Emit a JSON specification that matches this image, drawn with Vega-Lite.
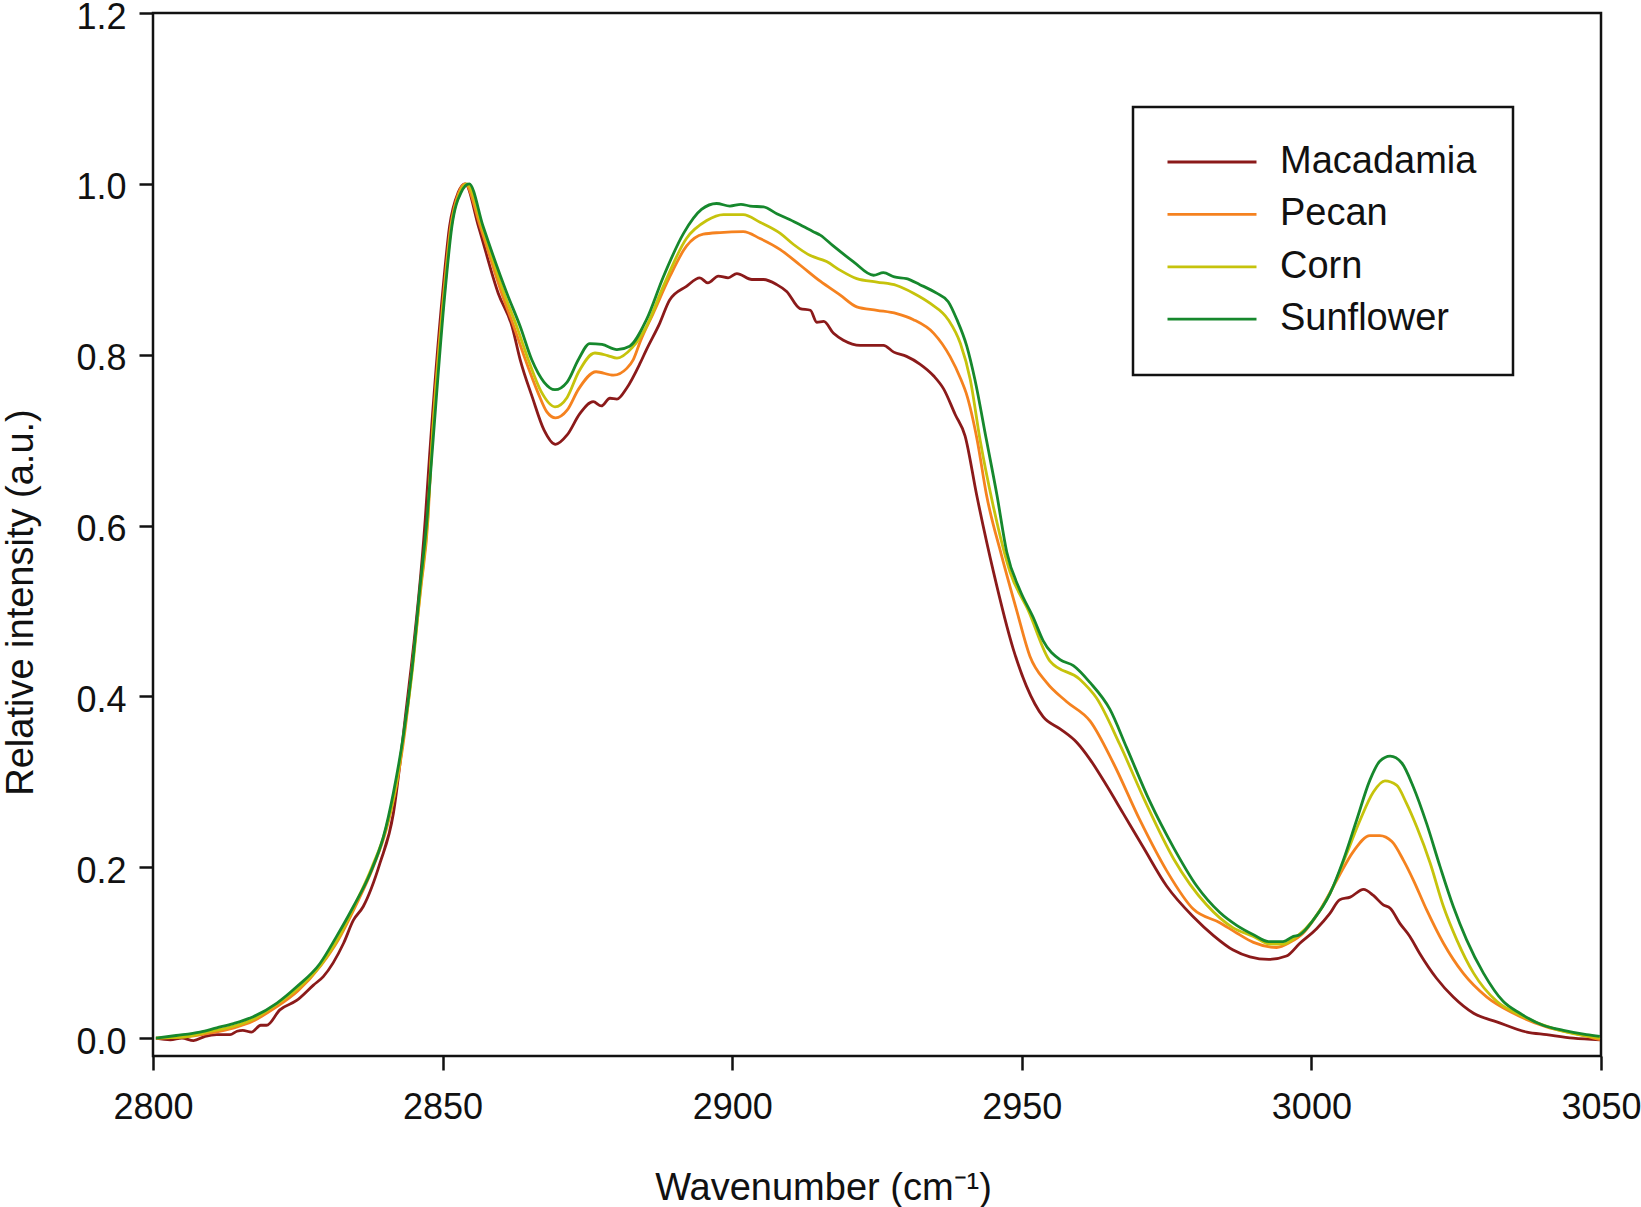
{
  "$schema": "https://vega.github.io/schema/vega-lite/v6.json",
  "width": 1448,
  "height": 1043,
  "autosize": "none",
  "padding": {"left": 153, "top": 13, "right": 40, "bottom": 151},
  "background": "white",
  "config": {
    "font": "Liberation Sans",
    "view": {"stroke": "#111111", "strokeWidth": 2.5},
    "axis": {
      "grid": false,
      "domain": false,
      "tickColor": "#111111",
      "tickWidth": 2.5,
      "tickSize": 14,
      "labelFont": "Liberation Sans",
      "labelFontSize": 36,
      "labelColor": "#111111",
      "labelFlush": false,
      "labelOverlap": false,
      "titleFont": "Liberation Sans",
      "titleFontSize": 38,
      "titleFontWeight": "normal",
      "titleColor": "#111111"
    },
    "legend": {
      "labelFont": "Liberation Sans",
      "labelFontSize": 38,
      "labelColor": "#111111",
      "strokeColor": "#111111",
      "strokeWidth": 2.5
    }
  },
  "data": {
    "values": [
      {"s":"Macadamia","w":2800.5,"v":0.000},
      {"s":"Macadamia","w":2803,"v":-0.002},
      {"s":"Macadamia","w":2805,"v":0.000},
      {"s":"Macadamia","w":2807,"v":-0.003},
      {"s":"Macadamia","w":2809,"v":0.002},
      {"s":"Macadamia","w":2811,"v":0.004},
      {"s":"Macadamia","w":2813.3,"v":0.004},
      {"s":"Macadamia","w":2814.5,"v":0.008},
      {"s":"Macadamia","w":2815.5,"v":0.009},
      {"s":"Macadamia","w":2817.0,"v":0.007},
      {"s":"Macadamia","w":2818.6,"v":0.015},
      {"s":"Macadamia","w":2819.6,"v":0.015},
      {"s":"Macadamia","w":2821.9,"v":0.033},
      {"s":"Macadamia","w":2824.8,"v":0.044},
      {"s":"Macadamia","w":2827.7,"v":0.062},
      {"s":"Macadamia","w":2829.4,"v":0.072},
      {"s":"Macadamia","w":2832.9,"v":0.111},
      {"s":"Macadamia","w":2834.6,"v":0.138},
      {"s":"Macadamia","w":2836.3,"v":0.154},
      {"s":"Macadamia","w":2839.2,"v":0.205},
      {"s":"Macadamia","w":2841.5,"v":0.263},
      {"s":"Macadamia","w":2843.5,"v":0.372},
      {"s":"Macadamia","w":2847.0,"v":0.607},
      {"s":"Macadamia","w":2847.7,"v":0.677},
      {"s":"Macadamia","w":2850.0,"v":0.872},
      {"s":"Macadamia","w":2851.2,"v":0.950},
      {"s":"Macadamia","w":2852.7,"v":0.990},
      {"s":"Macadamia","w":2853.9,"v":1.000},
      {"s":"Macadamia","w":2856.2,"v":0.950},
      {"s":"Macadamia","w":2859.6,"v":0.872},
      {"s":"Macadamia","w":2862.0,"v":0.833},
      {"s":"Macadamia","w":2863.4,"v":0.794},
      {"s":"Macadamia","w":2865.5,"v":0.750},
      {"s":"Macadamia","w":2867.5,"v":0.712},
      {"s":"Macadamia","w":2869.5,"v":0.695},
      {"s":"Macadamia","w":2871.5,"v":0.706},
      {"s":"Macadamia","w":2873.7,"v":0.731},
      {"s":"Macadamia","w":2876.0,"v":0.745},
      {"s":"Macadamia","w":2877.4,"v":0.740},
      {"s":"Macadamia","w":2878.9,"v":0.749},
      {"s":"Macadamia","w":2880.1,"v":0.748},
      {"s":"Macadamia","w":2881.8,"v":0.761},
      {"s":"Macadamia","w":2884.1,"v":0.790},
      {"s":"Macadamia","w":2885.2,"v":0.806},
      {"s":"Macadamia","w":2887.5,"v":0.837},
      {"s":"Macadamia","w":2889.2,"v":0.864},
      {"s":"Macadamia","w":2892.1,"v":0.880},
      {"s":"Macadamia","w":2894.4,"v":0.890},
      {"s":"Macadamia","w":2895.8,"v":0.884},
      {"s":"Macadamia","w":2897.6,"v":0.892},
      {"s":"Macadamia","w":2899.3,"v":0.890},
      {"s":"Macadamia","w":2900.8,"v":0.895},
      {"s":"Macadamia","w":2903.4,"v":0.888},
      {"s":"Macadamia","w":2905.4,"v":0.888},
      {"s":"Macadamia","w":2907.7,"v":0.882},
      {"s":"Macadamia","w":2909.4,"v":0.874},
      {"s":"Macadamia","w":2911.7,"v":0.854},
      {"s":"Macadamia","w":2913.5,"v":0.852},
      {"s":"Macadamia","w":2914.6,"v":0.838},
      {"s":"Macadamia","w":2915.8,"v":0.839},
      {"s":"Macadamia","w":2917.5,"v":0.825},
      {"s":"Macadamia","w":2919.2,"v":0.817},
      {"s":"Macadamia","w":2922.1,"v":0.811},
      {"s":"Macadamia","w":2926.1,"v":0.811},
      {"s":"Macadamia","w":2927.9,"v":0.803},
      {"s":"Macadamia","w":2930.1,"v":0.798},
      {"s":"Macadamia","w":2932.4,"v":0.789},
      {"s":"Macadamia","w":2934.8,"v":0.775},
      {"s":"Macadamia","w":2936.5,"v":0.760},
      {"s":"Macadamia","w":2938.5,"v":0.730},
      {"s":"Macadamia","w":2940.2,"v":0.705},
      {"s":"Macadamia","w":2942.2,"v":0.636},
      {"s":"Macadamia","w":2945.1,"v":0.546},
      {"s":"Macadamia","w":2948.5,"v":0.456},
      {"s":"Macadamia","w":2950.8,"v":0.412},
      {"s":"Macadamia","w":2953.7,"v":0.376},
      {"s":"Macadamia","w":2956.6,"v":0.362},
      {"s":"Macadamia","w":2959.5,"v":0.346},
      {"s":"Macadamia","w":2961.8,"v":0.326},
      {"s":"Macadamia","w":2964.7,"v":0.295},
      {"s":"Macadamia","w":2967.5,"v":0.263},
      {"s":"Macadamia","w":2971.0,"v":0.223},
      {"s":"Macadamia","w":2975.0,"v":0.178},
      {"s":"Macadamia","w":2979.6,"v":0.142},
      {"s":"Macadamia","w":2983.1,"v":0.120},
      {"s":"Macadamia","w":2986.5,"v":0.103},
      {"s":"Macadamia","w":2989.4,"v":0.095},
      {"s":"Macadamia","w":2992.6,"v":0.092},
      {"s":"Macadamia","w":2995.7,"v":0.096},
      {"s":"Macadamia","w":2998.0,"v":0.111},
      {"s":"Macadamia","w":3000.9,"v":0.128},
      {"s":"Macadamia","w":3003.2,"v":0.146},
      {"s":"Macadamia","w":3004.9,"v":0.162},
      {"s":"Macadamia","w":3006.7,"v":0.165},
      {"s":"Macadamia","w":3009.0,"v":0.174},
      {"s":"Macadamia","w":3010.7,"v":0.167},
      {"s":"Macadamia","w":3012.4,"v":0.156},
      {"s":"Macadamia","w":3013.6,"v":0.152},
      {"s":"Macadamia","w":3015.3,"v":0.134},
      {"s":"Macadamia","w":3017.0,"v":0.119},
      {"s":"Macadamia","w":3018.7,"v":0.099},
      {"s":"Macadamia","w":3021.6,"v":0.070},
      {"s":"Macadamia","w":3024.5,"v":0.048},
      {"s":"Macadamia","w":3028.0,"v":0.029},
      {"s":"Macadamia","w":3032.0,"v":0.019},
      {"s":"Macadamia","w":3037.2,"v":0.007},
      {"s":"Macadamia","w":3040.6,"v":0.004},
      {"s":"Macadamia","w":3045.2,"v":0.000},
      {"s":"Macadamia","w":3049.8,"v":-0.002},

      {"s":"Pecan","w":2800.5,"v":0.000},
      {"s":"Pecan","w":2805,"v":0.001},
      {"s":"Pecan","w":2810,"v":0.006},
      {"s":"Pecan","w":2814,"v":0.012},
      {"s":"Pecan","w":2817.3,"v":0.020},
      {"s":"Pecan","w":2821,"v":0.035},
      {"s":"Pecan","w":2825,"v":0.055},
      {"s":"Pecan","w":2829,"v":0.085},
      {"s":"Pecan","w":2832,"v":0.115},
      {"s":"Pecan","w":2835,"v":0.155},
      {"s":"Pecan","w":2838,"v":0.200},
      {"s":"Pecan","w":2840.3,"v":0.245},
      {"s":"Pecan","w":2842,"v":0.295},
      {"s":"Pecan","w":2843.5,"v":0.360},
      {"s":"Pecan","w":2845,"v":0.450},
      {"s":"Pecan","w":2846.3,"v":0.530},
      {"s":"Pecan","w":2847.5,"v":0.610},
      {"s":"Pecan","w":2848.0,"v":0.677},
      {"s":"Pecan","w":2850.2,"v":0.872},
      {"s":"Pecan","w":2851.4,"v":0.950},
      {"s":"Pecan","w":2852.8,"v":0.990},
      {"s":"Pecan","w":2853.9,"v":1.000},
      {"s":"Pecan","w":2856.5,"v":0.950},
      {"s":"Pecan","w":2860.2,"v":0.872},
      {"s":"Pecan","w":2862.3,"v":0.833},
      {"s":"Pecan","w":2864.3,"v":0.794},
      {"s":"Pecan","w":2866.5,"v":0.755},
      {"s":"Pecan","w":2868.0,"v":0.733},
      {"s":"Pecan","w":2869.5,"v":0.726},
      {"s":"Pecan","w":2871.5,"v":0.735},
      {"s":"Pecan","w":2873.5,"v":0.760},
      {"s":"Pecan","w":2876.5,"v":0.780},
      {"s":"Pecan","w":2879.5,"v":0.776},
      {"s":"Pecan","w":2881.8,"v":0.784},
      {"s":"Pecan","w":2882.9,"v":0.794},
      {"s":"Pecan","w":2884.1,"v":0.815},
      {"s":"Pecan","w":2886.4,"v":0.849},
      {"s":"Pecan","w":2889.2,"v":0.891},
      {"s":"Pecan","w":2892.1,"v":0.927},
      {"s":"Pecan","w":2895.0,"v":0.941},
      {"s":"Pecan","w":2897.9,"v":0.943},
      {"s":"Pecan","w":2901.9,"v":0.944},
      {"s":"Pecan","w":2904.8,"v":0.936},
      {"s":"Pecan","w":2908.3,"v":0.923},
      {"s":"Pecan","w":2911.7,"v":0.905},
      {"s":"Pecan","w":2915.2,"v":0.886},
      {"s":"Pecan","w":2918.6,"v":0.870},
      {"s":"Pecan","w":2921.5,"v":0.856},
      {"s":"Pecan","w":2925.0,"v":0.852},
      {"s":"Pecan","w":2928.4,"v":0.848},
      {"s":"Pecan","w":2931.3,"v":0.841},
      {"s":"Pecan","w":2934.8,"v":0.825},
      {"s":"Pecan","w":2937.6,"v":0.798},
      {"s":"Pecan","w":2939.5,"v":0.771},
      {"s":"Pecan","w":2940.4,"v":0.755},
      {"s":"Pecan","w":2942.3,"v":0.700},
      {"s":"Pecan","w":2943.9,"v":0.636},
      {"s":"Pecan","w":2946.5,"v":0.565},
      {"s":"Pecan","w":2949.1,"v":0.501},
      {"s":"Pecan","w":2951.4,"v":0.447},
      {"s":"Pecan","w":2954.3,"v":0.416},
      {"s":"Pecan","w":2957.7,"v":0.394},
      {"s":"Pecan","w":2961.8,"v":0.371},
      {"s":"Pecan","w":2965.8,"v":0.322},
      {"s":"Pecan","w":2970.4,"v":0.255},
      {"s":"Pecan","w":2975.0,"v":0.196},
      {"s":"Pecan","w":2979.6,"v":0.151},
      {"s":"Pecan","w":2984.2,"v":0.135},
      {"s":"Pecan","w":2987.1,"v":0.123},
      {"s":"Pecan","w":2990.0,"v":0.112},
      {"s":"Pecan","w":2994.0,"v":0.106},
      {"s":"Pecan","w":2996.3,"v":0.112},
      {"s":"Pecan","w":2998.6,"v":0.123},
      {"s":"Pecan","w":3001.5,"v":0.150},
      {"s":"Pecan","w":3004.4,"v":0.185},
      {"s":"Pecan","w":3007.2,"v":0.218},
      {"s":"Pecan","w":3010.1,"v":0.237},
      {"s":"Pecan","w":3011.8,"v":0.237},
      {"s":"Pecan","w":3013.9,"v":0.230},
      {"s":"Pecan","w":3015.9,"v":0.208},
      {"s":"Pecan","w":3017.6,"v":0.185},
      {"s":"Pecan","w":3019.9,"v":0.150},
      {"s":"Pecan","w":3022.8,"v":0.111},
      {"s":"Pecan","w":3026.2,"v":0.076},
      {"s":"Pecan","w":3030.3,"v":0.048},
      {"s":"Pecan","w":3034.9,"v":0.029},
      {"s":"Pecan","w":3040.6,"v":0.013},
      {"s":"Pecan","w":3046.4,"v":0.004},
      {"s":"Pecan","w":3049.8,"v":-0.002},

      {"s":"Corn","w":2800.5,"v":0.000},
      {"s":"Corn","w":2805,"v":0.001},
      {"s":"Corn","w":2810,"v":0.008},
      {"s":"Corn","w":2814,"v":0.014},
      {"s":"Corn","w":2817.3,"v":0.022},
      {"s":"Corn","w":2821,"v":0.038},
      {"s":"Corn","w":2825,"v":0.058},
      {"s":"Corn","w":2829,"v":0.086},
      {"s":"Corn","w":2832,"v":0.117},
      {"s":"Corn","w":2835,"v":0.158},
      {"s":"Corn","w":2837.8,"v":0.200},
      {"s":"Corn","w":2840,"v":0.240},
      {"s":"Corn","w":2841.8,"v":0.290},
      {"s":"Corn","w":2843.3,"v":0.355},
      {"s":"Corn","w":2844.8,"v":0.432},
      {"s":"Corn","w":2846.2,"v":0.528},
      {"s":"Corn","w":2847.4,"v":0.607},
      {"s":"Corn","w":2848.0,"v":0.677},
      {"s":"Corn","w":2850.3,"v":0.872},
      {"s":"Corn","w":2851.5,"v":0.950},
      {"s":"Corn","w":2853.0,"v":0.990},
      {"s":"Corn","w":2854.2,"v":1.000},
      {"s":"Corn","w":2856.8,"v":0.950},
      {"s":"Corn","w":2860.6,"v":0.872},
      {"s":"Corn","w":2862.8,"v":0.833},
      {"s":"Corn","w":2864.8,"v":0.794},
      {"s":"Corn","w":2867.0,"v":0.757},
      {"s":"Corn","w":2869.4,"v":0.739},
      {"s":"Corn","w":2871.5,"v":0.750},
      {"s":"Corn","w":2873.5,"v":0.780},
      {"s":"Corn","w":2876.3,"v":0.802},
      {"s":"Corn","w":2878.5,"v":0.799},
      {"s":"Corn","w":2880.1,"v":0.796},
      {"s":"Corn","w":2882.7,"v":0.808},
      {"s":"Corn","w":2885.2,"v":0.833},
      {"s":"Corn","w":2888.1,"v":0.880},
      {"s":"Corn","w":2892.1,"v":0.936},
      {"s":"Corn","w":2895.6,"v":0.957},
      {"s":"Corn","w":2898.5,"v":0.964},
      {"s":"Corn","w":2901.9,"v":0.964},
      {"s":"Corn","w":2904.8,"v":0.955},
      {"s":"Corn","w":2908.3,"v":0.942},
      {"s":"Corn","w":2910.6,"v":0.929},
      {"s":"Corn","w":2913.5,"v":0.916},
      {"s":"Corn","w":2916.3,"v":0.909},
      {"s":"Corn","w":2918.6,"v":0.899},
      {"s":"Corn","w":2921.5,"v":0.889},
      {"s":"Corn","w":2925.0,"v":0.885},
      {"s":"Corn","w":2928.4,"v":0.881},
      {"s":"Corn","w":2931.3,"v":0.872},
      {"s":"Corn","w":2934.2,"v":0.860},
      {"s":"Corn","w":2937.3,"v":0.841},
      {"s":"Corn","w":2939.4,"v":0.813},
      {"s":"Corn","w":2941.1,"v":0.771},
      {"s":"Corn","w":2942.8,"v":0.700},
      {"s":"Corn","w":2945.0,"v":0.625},
      {"s":"Corn","w":2948.0,"v":0.545},
      {"s":"Corn","w":2951.1,"v":0.501},
      {"s":"Corn","w":2954.9,"v":0.441},
      {"s":"Corn","w":2960.0,"v":0.420},
      {"s":"Corn","w":2962.9,"v":0.398},
      {"s":"Corn","w":2966.9,"v":0.344},
      {"s":"Corn","w":2971.3,"v":0.277},
      {"s":"Corn","w":2976.2,"v":0.210},
      {"s":"Corn","w":2981.9,"v":0.156},
      {"s":"Corn","w":2986.5,"v":0.129},
      {"s":"Corn","w":2990.0,"v":0.119},
      {"s":"Corn","w":2992.8,"v":0.110},
      {"s":"Corn","w":2995.1,"v":0.110},
      {"s":"Corn","w":2997.5,"v":0.119},
      {"s":"Corn","w":3000.3,"v":0.138},
      {"s":"Corn","w":3003.2,"v":0.169},
      {"s":"Corn","w":3006.1,"v":0.216},
      {"s":"Corn","w":3008.4,"v":0.255},
      {"s":"Corn","w":3010.7,"v":0.288},
      {"s":"Corn","w":3012.7,"v":0.301},
      {"s":"Corn","w":3014.7,"v":0.296},
      {"s":"Corn","w":3016.4,"v":0.275},
      {"s":"Corn","w":3018.2,"v":0.247},
      {"s":"Corn","w":3020.5,"v":0.205},
      {"s":"Corn","w":3022.8,"v":0.154},
      {"s":"Corn","w":3025.1,"v":0.115},
      {"s":"Corn","w":3028.0,"v":0.076},
      {"s":"Corn","w":3032.0,"v":0.043},
      {"s":"Corn","w":3036.0,"v":0.027},
      {"s":"Corn","w":3041.8,"v":0.011},
      {"s":"Corn","w":3049.8,"v":0.000},

      {"s":"Sunflower","w":2800.5,"v":0.000},
      {"s":"Sunflower","w":2804,"v":0.003},
      {"s":"Sunflower","w":2808.1,"v":0.007},
      {"s":"Sunflower","w":2811,"v":0.012},
      {"s":"Sunflower","w":2813.9,"v":0.017},
      {"s":"Sunflower","w":2817.3,"v":0.025},
      {"s":"Sunflower","w":2821.4,"v":0.041},
      {"s":"Sunflower","w":2824.8,"v":0.060},
      {"s":"Sunflower","w":2828.8,"v":0.087},
      {"s":"Sunflower","w":2831.7,"v":0.119},
      {"s":"Sunflower","w":2834.6,"v":0.154},
      {"s":"Sunflower","w":2837.5,"v":0.193},
      {"s":"Sunflower","w":2839.8,"v":0.236},
      {"s":"Sunflower","w":2841.5,"v":0.287},
      {"s":"Sunflower","w":2843.2,"v":0.353},
      {"s":"Sunflower","w":2844.7,"v":0.431},
      {"s":"Sunflower","w":2846.1,"v":0.528},
      {"s":"Sunflower","w":2847.3,"v":0.607},
      {"s":"Sunflower","w":2848.1,"v":0.677},
      {"s":"Sunflower","w":2850.4,"v":0.872},
      {"s":"Sunflower","w":2851.6,"v":0.950},
      {"s":"Sunflower","w":2853.2,"v":0.990},
      {"s":"Sunflower","w":2854.6,"v":1.000},
      {"s":"Sunflower","w":2857.0,"v":0.950},
      {"s":"Sunflower","w":2861.1,"v":0.872},
      {"s":"Sunflower","w":2863.4,"v":0.833},
      {"s":"Sunflower","w":2865.4,"v":0.794},
      {"s":"Sunflower","w":2867.5,"v":0.768},
      {"s":"Sunflower","w":2869.4,"v":0.759},
      {"s":"Sunflower","w":2871.5,"v":0.768},
      {"s":"Sunflower","w":2873.5,"v":0.795},
      {"s":"Sunflower","w":2875.4,"v":0.813},
      {"s":"Sunflower","w":2877.5,"v":0.812},
      {"s":"Sunflower","w":2880.1,"v":0.806},
      {"s":"Sunflower","w":2882.3,"v":0.810},
      {"s":"Sunflower","w":2885.2,"v":0.841},
      {"s":"Sunflower","w":2888.1,"v":0.891},
      {"s":"Sunflower","w":2891.6,"v":0.942},
      {"s":"Sunflower","w":2894.7,"v":0.970},
      {"s":"Sunflower","w":2897.3,"v":0.977},
      {"s":"Sunflower","w":2899.6,"v":0.974},
      {"s":"Sunflower","w":2901.5,"v":0.976},
      {"s":"Sunflower","w":2903.1,"v":0.974},
      {"s":"Sunflower","w":2905.4,"v":0.973},
      {"s":"Sunflower","w":2907.7,"v":0.965},
      {"s":"Sunflower","w":2910.0,"v":0.958},
      {"s":"Sunflower","w":2912.3,"v":0.950},
      {"s":"Sunflower","w":2914.0,"v":0.944},
      {"s":"Sunflower","w":2915.2,"v":0.940},
      {"s":"Sunflower","w":2917.5,"v":0.927},
      {"s":"Sunflower","w":2920.9,"v":0.909},
      {"s":"Sunflower","w":2924.4,"v":0.893},
      {"s":"Sunflower","w":2926.1,"v":0.896},
      {"s":"Sunflower","w":2928.0,"v":0.891},
      {"s":"Sunflower","w":2930.1,"v":0.889},
      {"s":"Sunflower","w":2932.4,"v":0.882},
      {"s":"Sunflower","w":2935.3,"v":0.872},
      {"s":"Sunflower","w":2937.3,"v":0.862},
      {"s":"Sunflower","w":2938.8,"v":0.841},
      {"s":"Sunflower","w":2940.5,"v":0.810},
      {"s":"Sunflower","w":2941.9,"v":0.771},
      {"s":"Sunflower","w":2943.9,"v":0.700},
      {"s":"Sunflower","w":2945.7,"v":0.636},
      {"s":"Sunflower","w":2947.4,"v":0.569},
      {"s":"Sunflower","w":2949.7,"v":0.524},
      {"s":"Sunflower","w":2952.0,"v":0.492},
      {"s":"Sunflower","w":2953.7,"v":0.465},
      {"s":"Sunflower","w":2956.6,"v":0.443},
      {"s":"Sunflower","w":2958.9,"v":0.436},
      {"s":"Sunflower","w":2961.8,"v":0.416},
      {"s":"Sunflower","w":2965.2,"v":0.385},
      {"s":"Sunflower","w":2968.1,"v":0.340},
      {"s":"Sunflower","w":2972.1,"v":0.277},
      {"s":"Sunflower","w":2976.2,"v":0.223},
      {"s":"Sunflower","w":2980.2,"v":0.178},
      {"s":"Sunflower","w":2984.2,"v":0.147},
      {"s":"Sunflower","w":2987.1,"v":0.132},
      {"s":"Sunflower","w":2990.0,"v":0.121},
      {"s":"Sunflower","w":2992.6,"v":0.113},
      {"s":"Sunflower","w":2995.1,"v":0.113},
      {"s":"Sunflower","w":2996.9,"v":0.119},
      {"s":"Sunflower","w":2998.0,"v":0.121},
      {"s":"Sunflower","w":3000.3,"v":0.138},
      {"s":"Sunflower","w":3003.2,"v":0.169},
      {"s":"Sunflower","w":3005.5,"v":0.208},
      {"s":"Sunflower","w":3007.8,"v":0.255},
      {"s":"Sunflower","w":3010.1,"v":0.302},
      {"s":"Sunflower","w":3011.8,"v":0.324},
      {"s":"Sunflower","w":3013.6,"v":0.330},
      {"s":"Sunflower","w":3015.6,"v":0.322},
      {"s":"Sunflower","w":3017.6,"v":0.294},
      {"s":"Sunflower","w":3019.9,"v":0.251},
      {"s":"Sunflower","w":3022.2,"v":0.201},
      {"s":"Sunflower","w":3024.5,"v":0.154},
      {"s":"Sunflower","w":3026.8,"v":0.115},
      {"s":"Sunflower","w":3029.7,"v":0.076},
      {"s":"Sunflower","w":3033.1,"v":0.043},
      {"s":"Sunflower","w":3036.0,"v":0.029},
      {"s":"Sunflower","w":3040.0,"v":0.015},
      {"s":"Sunflower","w":3043.5,"v":0.009},
      {"s":"Sunflower","w":3047.5,"v":0.004},
      {"s":"Sunflower","w":3049.8,"v":0.002}
    ]
  },
  "mark": {"type": "line", "strokeWidth": 2.8, "strokeJoin": "round", "interpolate": "monotone", "clip": true},
  "encoding": {
    "x": {
      "field": "w",
      "type": "quantitative",
      "scale": {"domain": [2800, 3050], "nice": false, "zero": false},
      "axis": {
        "title": "Wavenumber (cm⁻¹)",
        "values": [2800, 2850, 2900, 2950, 3000, 3050],
        "format": "d",
        "labelBaseline": "alphabetic",
        "labelPadding": 48,
        "titleX": 670,
        "titleY": 143,
        "titleBaseline": "alphabetic",
        "titleAlign": "center"
      }
    },
    "y": {
      "field": "v",
      "type": "quantitative",
      "scale": {"domain": [-0.021, 1.2], "nice": false, "zero": false},
      "axis": {
        "title": "Relative intensity (a.u.)",
        "values": [0, 0.2, 0.4, 0.6, 0.8, 1.0, 1.2],
        "format": ".1f",
        "labelPadding": 13,
        "labelOffset": 4,
        "titleX": -121,
        "titleY": 589,
        "titleBaseline": "alphabetic",
        "titleAlign": "center",
        "titleAngle": -90
      }
    },
    "color": {
      "field": "s",
      "type": "nominal",
      "scale": {
        "domain": ["Macadamia", "Pecan", "Corn", "Sunflower"],
        "range": ["#8b1a1a", "#f5821f", "#c6c30c", "#16882d"]
      },
      "legend": {
        "title": null,
        "orient": "none",
        "legendX": 980,
        "legendY": 94,
        "direction": "vertical",
        "fillColor": "white",
        "padding": 36,
        "symbolType": "M-3,0H3",
        "symbolSize": 880,
        "symbolStrokeWidth": 2.8,
        "symbolOffset": 24,
        "labelOffset": 49,
        "labelFontSize": 38,
        "labelLimit": 500,
        "rowPadding": 14.4
      }
    },
    "order": {"field": "w", "type": "quantitative"}
  }
}
